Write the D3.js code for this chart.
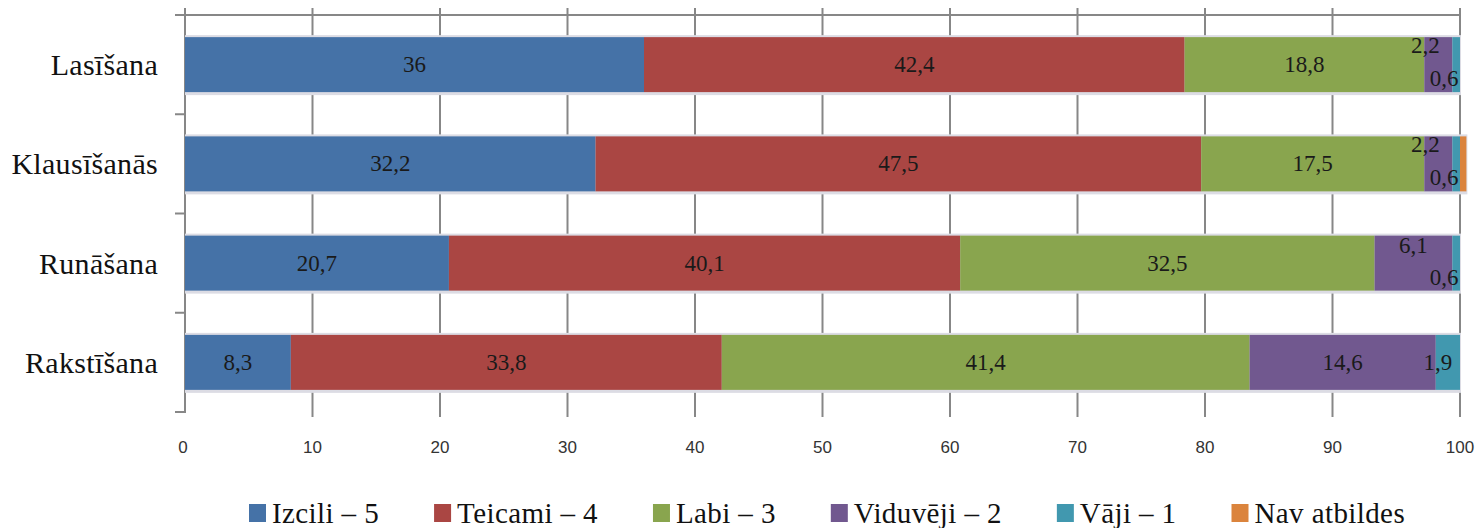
<!DOCTYPE html>
<html>
<head>
<meta charset="utf-8">
<script src="https://cdn.jsdelivr.net/npm/d3@7"></script>
<style>
  html, body { margin: 0; padding: 0; background: #ffffff; }
  svg { display: block; }
</style>
</head>
<body>
<svg id="chart" width="1480" height="528"></svg>
<script>
const categories = ["Lasīšana", "Klausīšanās", "Runāšana", "Rakstīšana"];
const seriesNames = ["Izcili – 5", "Teicami – 4", "Labi – 3", "Viduvēji – 2", "Vāji – 1", "Nav atbildes"];
const izcili      = [36, 32.2, 20.7, 8.3];
const teicami     = [42.4, 47.5, 40.1, 33.8];
const labi        = [18.8, 17.5, 32.5, 41.4];
const viduveji    = [2.2, 2.2, 6.1, 14.6];
const vaji        = [0.6, 0.6, 0.6, 1.9];
const navAtbildes = [0, 0.5, 0, 0];
const xTicks = [0, 10, 20, 30, 40, 50, 60, 70, 80, 90, 100];
const colors = ["#4572a7", "#aa4643", "#89a54e", "#71588f", "#4198af", "#db843d"];

const seriesValues = [izcili, teicami, labi, viduveji, vaji, navAtbildes];
const keys = seriesNames;
const rows = categories.map((c, i) => {
  const r = { cat: c };
  keys.forEach((k, j) => r[k] = seriesValues[j][i]);
  return r;
});

const svg = d3.select("#chart");
const grey = "#878787";

const x = d3.scaleLinear().domain([0, 100]).range([185, 1460]);
const y = d3.scaleBand().domain(categories).range([15, 412]).paddingInner(0.446).paddingOuter(0.223);
const step = y.step();

// gridlines
svg.append("g").selectAll("line").data(xTicks.filter(t => t > 0)).join("line")
  .attr("x1", d => x(d)).attr("x2", d => x(d))
  .attr("y1", 8).attr("y2", 417)
  .attr("stroke", grey).attr("stroke-width", 2);

// top horizontal line
svg.append("line").attr("x1", 175).attr("x2", x(100)).attr("y1", 15).attr("y2", 15)
  .attr("stroke", grey).attr("stroke-width", 2);

// left axis
svg.append("line").attr("x1", x(0)).attr("x2", x(0)).attr("y1", 8).attr("y2", 413)
  .attr("stroke", grey).attr("stroke-width", 2);
const catTickYs = categories.map(c => y(c) - (step - y.bandwidth()) / 2).concat([412]);
svg.append("g").selectAll("line").data(catTickYs).join("line")
  .attr("x1", 175).attr("x2", x(0)).attr("y1", d => d).attr("y2", d => d)
  .attr("stroke", grey).attr("stroke-width", 2);

// x tick labels
svg.append("g").selectAll("text").data(xTicks).join("text")
  .attr("x", d => x(d) - (d === 0 ? 2 : 0)).attr("y", 453)
  .attr("text-anchor", "middle")
  .attr("font-family", "Liberation Sans, Arial, sans-serif")
  .attr("font-size", 17).attr("fill", "#333")
  .text(d => d);

// category labels
svg.append("g").selectAll("text").data(categories).join("text")
  .attr("x", 158).attr("y", d => y(d) + y.bandwidth() / 2)
  .attr("dominant-baseline", "central")
  .attr("text-anchor", "end")
  .attr("font-family", "Liberation Serif, Times New Roman, serif")
  .attr("font-size", 30).attr("letter-spacing", 0.3).attr("fill", "#111")
  .text(d => d);

const stack = d3.stack().keys(keys);
const stacked = stack(rows);

// bar shadows
svg.append("g").selectAll("rect").data(categories).join("rect")
  .attr("x", x(0)).attr("y", d => y(d) - 2)
  .attr("width", d => {
    const last = stacked[stacked.length - 1].find(s => s.data.cat === d);
    return x(last[1]) - x(0) + 1;
  })
  .attr("height", y.bandwidth() + 5)
  .attr("fill", "#dcdce4");

// bars
const g = svg.append("g");
stacked.forEach((s, si) => {
  g.append("g").attr("fill", colors[si]).selectAll("rect").data(s).join("rect")
    .attr("x", d => x(d[0]))
    .attr("y", d => y(d.data.cat))
    .attr("width", d => Math.max(0, x(d[1]) - x(d[0])))
    .attr("height", y.bandwidth());
});

// value labels
const fmt = v => String(v).replace(".", ",");
const lab = svg.append("g");
stacked.forEach((s, si) => {
  if (si === 5) return;
  s.forEach(d => {
    const v = d[1] - d[0];
    if (!(v > 0)) return;
    let dx = 0, dy = 0;
    if (v < 1) { dx = -12; dy = 14; }
    else if (v < 2) { dx = -10; }
    else if (v < 3) { dx = -13; dy = -19; }
    else if (v < 7) { dy = -18; }
    lab.append("text")
      .attr("x", (x(d[0]) + x(d[1])) / 2 + dx)
      .attr("y", y(d.data.cat) + y.bandwidth() / 2 + dy)
      .attr("text-anchor", "middle").attr("dominant-baseline", "central")
      .attr("font-family", "Liberation Serif, Times New Roman, serif")
      .attr("font-size", 23).attr("fill", "#1a1a1a")
      .text(fmt(Math.round(v * 10) / 10));
  });
});

// legend
const leg = svg.append("g");
let lx = 249;
seriesNames.forEach((n, i) => {
  leg.append("rect").attr("x", lx).attr("y", 504).attr("width", 17).attr("height", 18).attr("fill", colors[i]);
  const t = leg.append("text").attr("x", lx + 23).attr("y", 513)
    .attr("dominant-baseline", "central")
    .attr("font-family", "Liberation Serif, Times New Roman, serif")
    .attr("font-size", 29).attr("letter-spacing", 0.4).attr("fill", "#111")
    .text(n);
  lx += 23 + t.node().getComputedTextLength() + 55;
});
</script>
</body>
</html>
